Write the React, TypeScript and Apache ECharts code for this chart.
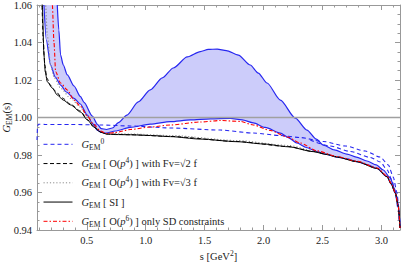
import React, { useEffect, useRef } from 'react';
import * as echarts from 'echarts';

// ---------- data (s in GeV^2, G_EM(s)) ----------
const xMin = 0.078;
const xMax = 3.157;
const yMin = 0.94;
const yMax = 1.06;
const yStep = 0.02;

const xMajorTicks = [0.5, 1.0, 1.5, 2.0, 2.5, 3.0];
const xMinorTicks = [0.1, 0.2, 0.3, 0.4, 0.6, 0.7, 0.8, 0.9, 1.1, 1.2, 1.3, 1.4, 1.6, 1.7, 1.8, 1.9, 2.1, 2.2, 2.3, 2.4, 2.6, 2.7, 2.8, 2.9, 3.1];

const bandUpper: number[][] = [
  [0.250, 1.060], [0.263, 1.0467], [0.278, 1.0333], [0.301, 1.028], [0.335, 1.0227], [0.392, 1.0168],
  [0.445, 1.0113], [0.477, 1.0081], [0.547, 1.0008], [0.589, 0.9965], [0.623, 0.9941], [0.666, 0.9936],
  [0.717, 0.9944], [0.768, 0.9973], [0.841, 1.0013], [0.937, 1.0083], [1.039, 1.0147], [1.141, 1.0211],
  [1.234, 1.0264], [1.353, 1.0323], [1.463, 1.0351], [1.531, 1.0363], [1.607, 1.0365], [1.684, 1.0357],
  [1.786, 1.0333], [1.887, 1.0280], [1.955, 1.0237], [2.029, 1.0184], [2.142, 1.0093], [2.269, 0.9997],
  [2.368, 0.9933], [2.447, 0.9885], [2.507, 0.9853], [2.600, 0.9827], [2.707, 0.9805], [2.786, 0.9789],
  [2.877, 0.9768], [2.956, 0.9747], [3.015, 0.9720], [3.075, 0.9677], [3.108, 0.9624], [3.131, 0.9576],
  [3.147, 0.9507], [3.157, 0.9411],
];

const bandLower: number[][] = [
  [0.137, 1.060], [0.157, 1.0413], [0.193, 1.028], [0.233, 1.0216], [0.278, 1.0173], [0.327, 1.0136],
  [0.392, 1.0102], [0.445, 1.0072], [0.505, 1.0013], [0.547, 0.9969], [0.589, 0.9933], [0.623, 0.9920],
  [0.666, 0.9917], [0.742, 0.9928], [0.869, 0.9947], [1.039, 0.9965], [1.209, 0.9978], [1.378, 0.9987],
  [1.548, 0.9993], [1.718, 0.9995], [1.819, 0.9987], [1.913, 0.9971], [2.014, 0.9947], [2.142, 0.9917],
  [2.209, 0.9893], [2.283, 0.9864], [2.362, 0.9840], [2.453, 0.9818], [2.532, 0.9803], [2.623, 0.9789],
  [2.707, 0.9779], [2.792, 0.9764], [2.877, 0.9749], [2.962, 0.9728], [3.047, 0.9684], [3.083, 0.9645],
  [3.117, 0.9597], [3.142, 0.9528], [3.157, 0.9411],
];

const gem0: number[][] = [
  [0.078, 0.9880], [0.083, 0.9955], [0.090, 0.9964], [0.148, 0.9963], [0.360, 0.9963], [0.615, 0.9960],
  [0.869, 0.9955], [1.209, 0.9944], [1.633, 0.9933], [1.913, 0.9917], [2.142, 0.9904], [2.312, 0.9893],
  [2.506, 0.9872], [2.693, 0.9848], [2.863, 0.9821], [2.990, 0.9789], [3.058, 0.9747], [3.100, 0.9683],
  [3.130, 0.9603], [3.147, 0.9523], [3.157, 0.9427],
];

const gem0b: number[][] = [
  [2.396, 0.9880], [2.564, 0.9848], [2.735, 0.9819], [2.905, 0.9787], [2.990, 0.9763], [3.049, 0.9720],
  [3.087, 0.9667], [3.117, 0.9597], [3.142, 0.9507], [3.155, 0.9411],
];

const gemP4Sqrt2: number[][] = [
  [0.110, 1.0733], [0.119, 1.060], [0.131, 1.0413], [0.144, 1.0280], [0.161, 1.0211], [0.191, 1.0173],
  [0.233, 1.0141], [0.293, 1.0104], [0.360, 1.0072], [0.445, 1.0035], [0.505, 0.9989], [0.564, 0.9947],
  [0.615, 0.9923], [0.666, 0.9912], [0.869, 0.9908], [1.209, 0.9899], [1.774, 0.9872], [2.209, 0.9845],
  [2.421, 0.9819], [2.532, 0.9804], [2.623, 0.9790], [2.792, 0.9765], [2.962, 0.9729], [3.047, 0.9685],
  [3.083, 0.9646], [3.117, 0.9598], [3.142, 0.9529], [3.157, 0.9411],
];

const gemP4Sqrt3: number[][] = [
  [0.140, 1.0733], [0.151, 1.060], [0.165, 1.044], [0.193, 1.028], [0.225, 1.0211], [0.278, 1.0156],
  [0.363, 1.0102], [0.445, 1.0056], [0.505, 1.0003], [0.564, 0.9952], [0.615, 0.9925], [0.666, 0.9915],
  [0.869, 0.9912], [1.209, 0.9904], [1.774, 0.9877], [2.209, 0.9851], [2.453, 0.9819], [2.623, 0.9790],
  [2.792, 0.9765], [2.962, 0.9729], [3.047, 0.9685], [3.083, 0.9646], [3.117, 0.9598], [3.142, 0.9529],
  [3.157, 0.9411],
];

const gemSI: number[][] = [
  [0.114, 1.068], [0.123, 1.060], [0.137, 1.0333], [0.148, 1.0244], [0.165, 1.0191], [0.208, 1.0157],
  [0.250, 1.0120], [0.301, 1.0093], [0.363, 1.0067], [0.448, 1.0029], [0.505, 0.9987], [0.561, 0.9949],
  [0.615, 0.9923], [0.666, 0.9912], [0.742, 0.9909], [0.869, 0.9908], [1.039, 0.9904], [1.209, 0.9898],
  [1.463, 0.9885], [1.774, 0.9871], [1.997, 0.9859], [2.209, 0.9844], [2.421, 0.9818], [2.532, 0.9803],
  [2.623, 0.9789], [2.792, 0.9764], [2.962, 0.9728], [3.047, 0.9684], [3.083, 0.9645], [3.117, 0.9597],
  [3.142, 0.9528], [3.157, 0.9411],
];

const gemP6: number[][] = [
  [0.200, 1.075], [0.208, 1.060], [0.222, 1.040], [0.236, 1.0244], [0.278, 1.0184], [0.335, 1.0147],
  [0.392, 1.0093], [0.445, 1.0061], [0.505, 1.0008], [0.556, 0.9965], [0.615, 0.9928], [0.666, 0.9915],
  [0.742, 0.9920], [0.869, 0.9936], [1.039, 0.9949], [1.209, 0.9960], [1.463, 0.9976], [1.633, 0.9984],
  [1.803, 0.9979], [1.913, 0.9960], [2.057, 0.9931], [2.201, 0.9896], [2.310, 0.9864], [2.453, 0.9822],
  [2.623, 0.9792], [2.792, 0.9767], [2.962, 0.9731], [3.047, 0.9688], [3.083, 0.9648], [3.117, 0.9600],
  [3.142, 0.9530], [3.157, 0.9411],
];

const legendNames = ['gem0', 'p4sqrt2', 'p4sqrt3', 'si', 'p6'];
const legendLabels: Record<string, string> = {
  gem0: '{i|G}{sub|EM}{sup|0}',
  p4sqrt2: '{i|G}{sub|EM} [ O({i|p}{sup|4}) ] with Fv=√2 f',
  p4sqrt3: '{i|G}{sub|EM} [ O({i|p}{sup|4}) ] with Fv=√3 f',
  si: '{i|G}{sub|EM} [ SI ]',
  p6: '{i|G}{sub|EM} [ O({i|p}{sup|6}) ] only SD constraints',
};

// ---------- styles ----------
const FONT = 'Liberation Serif';
const BLUE = '#2626f0';
const BAND_FILL = '#ccccfa';
const FRAME = '#999999';
const TXT = '#222222';

function makeRich(size: number) {
  return {
    i: { fontStyle: 'italic', fontFamily: FONT, fontSize: size, lineHeight: 14, color: TXT },
    sub: { fontFamily: FONT, fontSize: size * 0.72, lineHeight: 8, verticalAlign: 'bottom', color: TXT },
    sup: { fontFamily: FONT, fontSize: size * 0.72, lineHeight: 8, verticalAlign: 'top', color: TXT },
  };
}

function lineSeries(name: string, data: number[][], color: string, type: any, width: number, z: number, extra: any = {}) {
  return {
    type: 'line',
    name,
    data,
    symbol: 'none',
    showSymbol: false,
    smooth: 0.25,
    smoothMonotone: 'x',
    clip: true,
    silent: true,
    z,
    lineStyle: { color, type, width },
    itemStyle: { color },
    ...extra,
  };
}

function buildOption(): any {
  const frameLine = { color: FRAME, width: 1 };
  const tickLine = { color: FRAME, width: 1 };
  const xBase = { type: 'value', min: xMin, max: xMax, splitLine: { show: false } };
  return {
    animation: false,
    backgroundColor: '#ffffff',
    grid: { left: 37, top: 5, width: 363, height: 225, containLabel: false, outerBoundsMode: 'none' },
    xAxis: [
      {
        ...xBase, position: 'bottom',
        axisLine: { show: true, onZero: false, lineStyle: frameLine },
        axisTick: { show: true, inside: true, length: 2.5, customValues: xMinorTicks, lineStyle: tickLine },
        axisLabel: { show: false },
      },
      {
        ...xBase, position: 'bottom',
        axisLine: { show: false, onZero: false },
        axisTick: { show: true, inside: true, length: 5, customValues: xMajorTicks, lineStyle: tickLine },
        axisLabel: {
          show: true, customValues: xMajorTicks, formatter: (v: number) => v.toFixed(1), margin: 5,
          fontFamily: FONT, fontSize: 10.5, color: TXT,
        },
        name: 's [GeV{sup|2}]', nameLocation: 'middle', nameGap: 19, nameMoveOverlap: false,
        nameTextStyle: { fontFamily: FONT, fontSize: 10.5, color: TXT, lineHeight: 14, rich: makeRich(10.5) },
      },
      {
        ...xBase, position: 'top',
        axisLine: { show: true, onZero: false, lineStyle: frameLine },
        axisTick: { show: true, inside: true, length: 2.5, customValues: xMinorTicks, lineStyle: tickLine },
        axisLabel: { show: false },
      },
      {
        ...xBase, position: 'top',
        axisLine: { show: false, onZero: false },
        axisTick: { show: true, inside: true, length: 5, customValues: xMajorTicks, lineStyle: tickLine },
        axisLabel: { show: false },
      },
    ],
    yAxis: [
      {
        type: 'value', position: 'left', min: yMin, max: yMax, interval: yStep,
        axisLine: { show: true, onZero: false, lineStyle: frameLine },
        axisTick: { show: true, inside: true, length: 5, lineStyle: tickLine },
        minorTick: { show: true, splitNumber: 4, length: 2.5, lineStyle: tickLine },
        axisLabel: { formatter: (v: number) => v.toFixed(2), margin: 5, fontFamily: FONT, fontSize: 10.5, color: TXT },
        splitLine: { show: false },
        name: '{i|G}{sub|EM}(s)', nameLocation: 'middle', nameGap: 24, nameMoveOverlap: false,
        nameTextStyle: { fontFamily: FONT, fontSize: 10.5, color: TXT, lineHeight: 14, rich: makeRich(10.5) },
      },
      {
        type: 'value', position: 'right', min: yMin, max: yMax, interval: yStep,
        axisLine: { show: true, onZero: false, lineStyle: frameLine },
        axisTick: { show: true, inside: true, length: 5, lineStyle: tickLine },
        minorTick: { show: true, splitNumber: 4, length: 2.5, lineStyle: tickLine },
        axisLabel: { show: false },
        splitLine: { show: false },
      },
    ],
    legend: legendNames.map((n, i) => ({
      data: [n],
      orient: 'vertical',
      left: 43,
      top: 137.3 + i * 19.25,
      padding: 0,
      itemGap: 0,
      itemWidth: 29,
      itemHeight: 10,
      selectedMode: false,
      itemStyle: { opacity: 0 },
      lineStyle: { width: 1 },
      formatter: (name: string) => legendLabels[name],
      textStyle: { fontFamily: FONT, fontSize: 10.5, color: TXT, lineHeight: 14, padding: [0, 0, 0, 4], rich: makeRich(10.5) },
    })),
    series: [
      {
        type: 'custom',
        name: 'band',
        coordinateSystem: 'cartesian2d',
        xAxisIndex: 0,
        yAxisIndex: 0,
        silent: true,
        z: 1,
        data: [[1, 1]],
        renderItem: (_params: any, api: any) => {
          const pts = [
            ...bandUpper.map((p) => api.coord(p)),
            ...bandLower.slice().reverse().map((p) => api.coord(p)),
          ];
          return { type: 'polygon', shape: { points: pts }, style: { fill: BAND_FILL, stroke: 'none' } };
        },
      },
      lineSeries('bandUpper', bandUpper, BLUE, 'solid', 1.2, 3, {
        markLine: {
          silent: true,
          symbol: ['none', 'none'],
          label: { show: false },
          lineStyle: { color: '#a0a0a0', width: 1.4, type: 'solid' },
          data: [{ yAxis: 1 }],
        },
      }),
      lineSeries('bandLower', bandLower, BLUE, 'solid', 1.2, 3),
      lineSeries('gem0', gem0, BLUE, [4, 3], 1.1, 4),
      lineSeries('gem0b', gem0b, BLUE, [4, 3], 1.1, 4),
      lineSeries('p4sqrt2', gemP4Sqrt2, '#000000', [4, 2.5], 1, 5),
      lineSeries('p4sqrt3', gemP4Sqrt3, '#8c8c8c', [1.2, 2], 1.1, 5),
      lineSeries('si', gemSI, '#000000', 'solid', 1, 5),
      lineSeries('p6', gemP6, '#ff0000', [4, 2, 1.5, 2], 1.1, 6),
    ],
  };
}

export default function App() {
  const ref = useRef<HTMLDivElement>(null);
  useEffect(() => {
    if (!ref.current) return;
    const chart = echarts.init(ref.current, null, { renderer: 'svg' });
    chart.setOption(buildOption());
    return () => chart.dispose();
  }, []);
  return (
    <div
      ref={ref}
      style={{ position: 'fixed', left: 0, top: 0, width: 403, height: 262, background: '#ffffff' }}
    />
  );
}
